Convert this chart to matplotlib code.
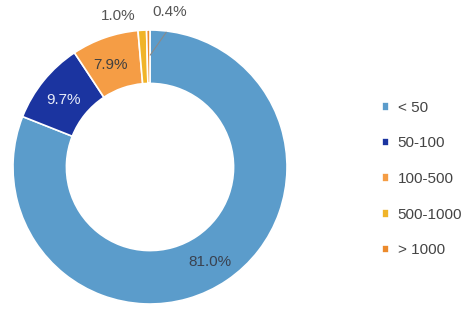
"""Donut chart of share by size class
"""

import numpy as np
import matplotlib
matplotlib.use("Agg")
import matplotlib.pyplot as plt

# data
categories = ["< 50", "50-100", "100-500", "500-1000", "> 1000"]
shares = [81.0, 9.7, 7.9, 1.0, 0.4]
pct_labels = ["81.0%", "9.7%", "7.9%", "1.0%", "0.4%"]

# style
colors = ["#5b9ccb", "#1b34a0", "#f59d45", "#f0b429", "#ec8a2c"]
label_colors = ["#3a4250", "#e8ecf8", "#404040", "#555555", "#555555"]
# (radius, angle in degrees) for each label
label_pos = [(0.82, -57.5), (0.80, 142), (0.80, 111), (1.13, 102), (1.14, 82.6)]

plt.rcParams["font.family"] = ["Liberation Sans", "DejaVu Sans"]

fig = plt.figure(figsize=(4.74, 3.31), dpi=100)
ax = fig.add_axes([13/474, 27/331, 274/474, 274/331])

wedges, _ = ax.pie(shares, colors=colors, startangle=90, counterclock=False,
                   radius=1.0, wedgeprops=dict(width=0.39, edgecolor="white", linewidth=1.2))
ax.set_xlim(-1, 1)
ax.set_ylim(-1, 1)
ax.set_aspect("equal")
ax.axis("off")

for lab, (r, a), c in zip(pct_labels, label_pos, label_colors):
    x, y = r*np.cos(np.radians(a)), r*np.sin(np.radians(a))
    ax.text(x, y, lab, ha="center", va="center", fontsize=11, color=c, clip_on=False)

# leader line for the smallest slice
ax.annotate("", xy=(-0.01, 0.80), xytext=(0.13, 1.00),
            arrowprops=dict(arrowstyle="-", color="#8a8a8a", lw=0.8))

fig.legend(wedges, categories, loc="center left", bbox_to_anchor=(368/474, 1-179/331),
           frameon=False, fontsize=11, handlelength=0.5, handleheight=0.5,
           labelspacing=1.42, handletextpad=0.55, labelcolor="#444444")

fig.savefig("out.png", dpi=100)
